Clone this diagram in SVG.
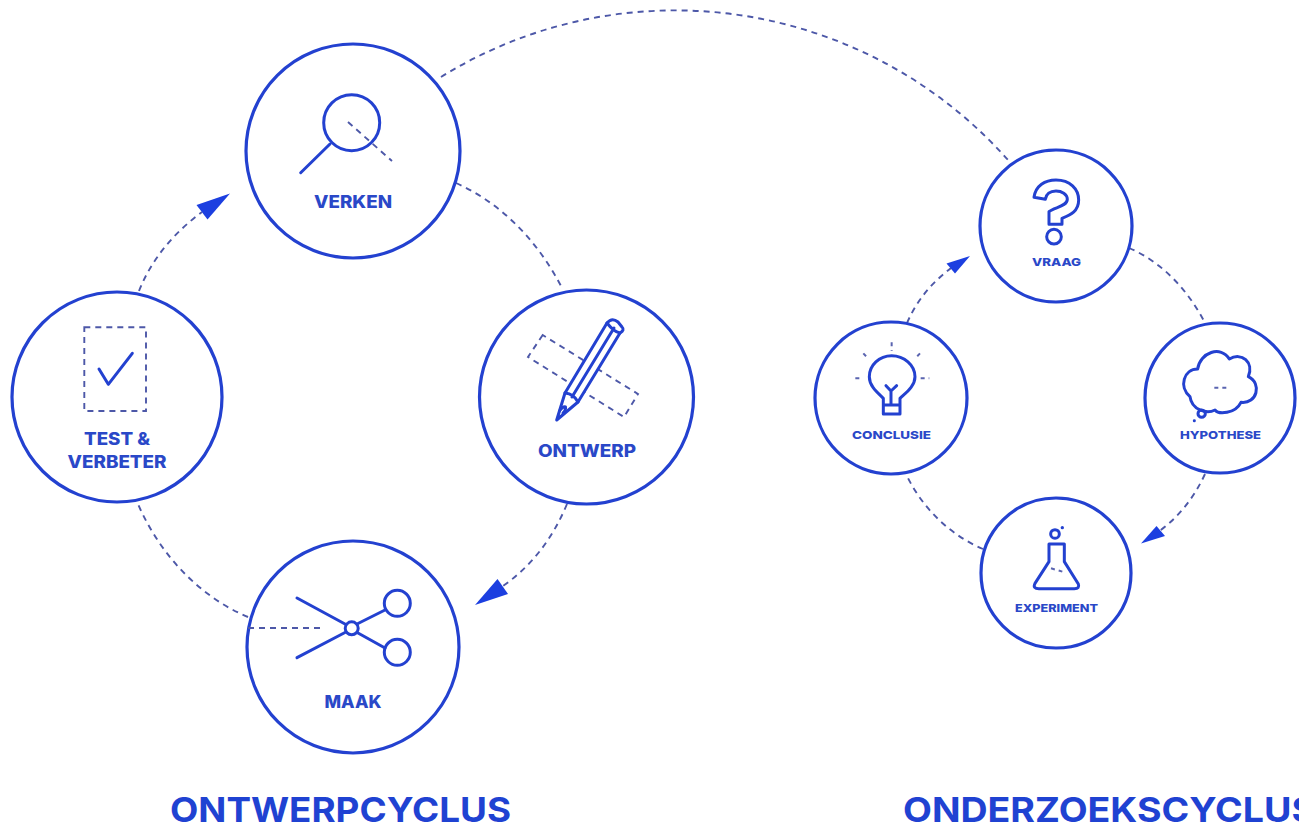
<svg xmlns="http://www.w3.org/2000/svg" width="1299" height="828" viewBox="0 0 1299 828">
<style>
.node{fill:none;stroke:#2341d0;stroke-width:3.2}
.ic{fill:none;stroke:#2341d0;stroke-width:3;stroke-linecap:round;stroke-linejoin:round}
.icw{fill:#fff;stroke:#2341d0;stroke-width:3;stroke-linejoin:round}
.ic3{fill:none;stroke:#2341d0;stroke-width:9;stroke-linecap:round;stroke-linejoin:round}
.dash{fill:none;stroke:#4d58a8;stroke-width:1.9;stroke-dasharray:6 5}
.dash3{fill:none;stroke:#5a64b0;stroke-width:6;stroke-dasharray:12 12}
.head{fill:#1c3fe0;stroke:none}
text{font-family:Inter,"Liberation Sans",sans-serif;font-weight:800;fill:#2a48c8;text-anchor:middle}
.l{font-size:17px}.s{font-size:11px}
.t{font-size:34px;font-weight:700;fill:#1f42d2;text-anchor:start}
</style>
<rect width="1299" height="828" fill="#fff"/>
<g id="connectors">
<path class="dash" d="M441 77A445 445 0 0 1 1008 160"/>
<path class="dash" d="M456 183C505 205 540 245 562 288"/>
<path class="dash" d="M567 504C552 540 530 568 500 588"/>
<path class="dash" d="M248 617C200 597 160 555 138 504"/>
<path class="dash" d="M139 291C152 258 175 232 202 212"/>
<path class="dash" d="M1129 248C1162 262 1188 290 1205 323"/>
<path class="dash" d="M1205 474C1194 498 1178 518 1158 532"/>
<path class="dash" d="M983 549C950 535 922 508 906 474"/>
<path class="dash" d="M907 323C918 298 933 282 951 268"/>
<polygon class="head" points="230,193.5 196.5,205 207.5,219.5"/>
<polygon class="head" points="475,605 497.5,579 508,594"/>
<polygon class="head" points="1141,543.5 1156.5,526 1165,536"/>
<polygon class="head" points="970,256 946.5,263.5 955,273.5"/>
</g>
<g id="verken">
<circle class="node" cx="353" cy="151" r="107"/>
<circle class="ic" cx="351.7" cy="122.7" r="28"/>
<line class="ic" x1="330" y1="144" x2="300.7" y2="172.7"/>
<line class="dash" x1="348" y1="122" x2="392" y2="161"/>
<text class="l" x="353" y="208" textLength="78" lengthAdjust="spacingAndGlyphs">VERKEN</text>
</g>
<g id="ontwerp">
<circle class="node" cx="586.5" cy="397" r="107"/>
<polygon class="dash" points="542.7,335 528,357 624,417 638,394"/>
<path class="icw" d="M556.7 420L565 393L607 323Q612 317 618 322L622 327Q625 330 620 333L578 402Z"/>
<path class="ic" d="M572 397L614 328M607 323Q614 332 620 333M565 393Q574 394 578 402M559.5 411Q563 406 565.5 407Q566 410 563 413"/>
<text class="l" x="587" y="457" textLength="98" lengthAdjust="spacingAndGlyphs">ONTWERP</text>
</g>
<g id="maak">
<circle class="node" cx="353" cy="647" r="106"/>
<line class="dash" x1="248" y1="628" x2="322" y2="628"/>
<path class="ic" d="M297 598L345 624M297 657.7L345 632.5M358 623.5L385 610M358 633L385 648"/>
<circle class="ic" cx="351.7" cy="628.3" r="6.5"/>
<circle class="ic" cx="397.3" cy="603.3" r="13"/>
<circle class="ic" cx="397.3" cy="652.3" r="13"/>
<text class="l" x="353" y="708" textLength="57" lengthAdjust="spacingAndGlyphs">MAAK</text>
</g>
<g id="test-verbeter">
<circle class="node" cx="117" cy="397" r="105"/>
<rect class="dash" x="84.3" y="327.3" width="61.7" height="83.7"/>
<path class="ic" d="M99 369L108.3 384.3L132.3 353.3"/>
<text class="l" x="117" y="445" textLength="66" lengthAdjust="spacingAndGlyphs">TEST &amp;</text>
<text class="l" x="117" y="468" textLength="99" lengthAdjust="spacingAndGlyphs">VERBETER</text>
</g>
<g id="vraag">
<circle class="node" cx="1056" cy="226" r="76"/>
<g transform="translate(970 170) scale(.3333)">
<path class="ic3" d="M192 82C197 47 225 30 258 30C300 30 326 57 326 90C326 125 300 135 276 145L276 163L237 163L237 125C252 112 292 110 292 88C292 72 275 63 258 63C240 63 228 73 226 88Z"/>
<circle class="ic3" cx="252" cy="200" r="22"/>
</g>
<text class="s" x="1056.5" y="266" textLength="49" lengthAdjust="spacingAndGlyphs">VRAAG</text>
</g>
<g id="conclusie">
<circle class="node" cx="891" cy="398" r="76"/>
<g transform="translate(810 315) scale(.3333)">
<path class="ic3" d="M220 270L220 250C205 235 178 215 178 185C178 150 208 122 245 122C282 122 315 150 315 185C315 215 285 235 270 250L270 270ZM220 270L220 297L270 297L270 270M228 212L243 228L260 212M243 228L243 270"/>
<path class="dash3" d="M245 82L245 108M160 115L176 132M330 115L314 132M136 190L160 190M332 190L358 190"/>
</g>
<text class="s" x="891.5" y="439" textLength="79" lengthAdjust="spacingAndGlyphs">CONCLUSIE</text>
</g>
<g id="hypothese">
<circle class="node" cx="1220" cy="398" r="75"/>
<g transform="translate(1135 315) scale(.3333)">
<path class="ic3" d="M165 245C130 215 147 162 188 162C195 112 258 90 283 132C320 110 358 142 340 185C382 205 366 268 318 262C300 298 250 298 240 285C215 298 170 285 165 245Z"/>
<circle class="ic3" cx="200" cy="296" r="11"/>
<circle cx="178" cy="317" r="4.5" fill="#2341d0"/>
<path class="dash3" stroke-dasharray="6 9" d="M238 218L276 218"/>
</g>
<text class="s" x="1220.5" y="439" textLength="81" lengthAdjust="spacingAndGlyphs">HYPOTHESE</text>
</g>
<g id="experiment">
<circle class="node" cx="1056" cy="573" r="75"/>
<g transform="translate(975 490) scale(.3333)">
<circle class="ic3" cx="240" cy="132" r="13"/>
<circle cx="262" cy="113" r="5" fill="#2341d0"/>
<path class="ic3" d="M222 162L268 162L268 215L310 282Q315 296 298 296L192 296Q172 296 180 280L222 215Z"/>
<path class="dash3" stroke-dasharray="10 12" d="M228 235L262 245"/>
</g>
<text class="s" x="1056.5" y="612" textLength="83" lengthAdjust="spacingAndGlyphs">EXPERIMENT</text>
</g>
<text class="t" x="170" y="822" textLength="341" lengthAdjust="spacingAndGlyphs">ONTWERPCYCLUS</text>
<text class="t" x="903" y="822" textLength="413" lengthAdjust="spacingAndGlyphs">ONDERZOEKSCYCLUS</text>
</svg>
